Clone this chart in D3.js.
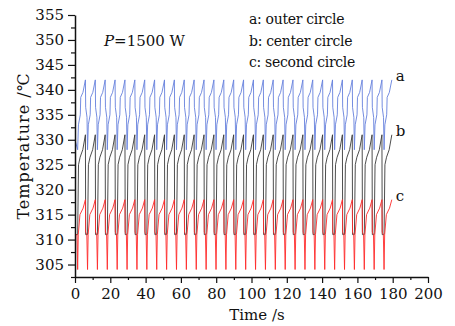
<!DOCTYPE html>
<html>
<head>
<meta charset="utf-8">
<script src="https://cdn.jsdelivr.net/npm/d3@7/dist/d3.min.js"></script>
<style>
  body { margin: 0; background: #fff; }
  svg { display: block; }
  text { font-family: "DejaVu Serif", serif; fill: #111; }
</style>
</head>
<body>
<div id="chart"></div>
<script>
// times (s) of each red minimum
const cycleStarts = [1.5, 7.1, 12.7, 18.3, 23.9, 29.5, 35.1, 40.7, 46.3, 51.9, 57.5, 63.1,
  68.7, 74.3, 79.9, 85.5, 91.1, 96.7, 102.3, 107.9, 113.5, 119.1, 124.7, 130.3,
  135.9, 141.5, 147.1, 152.7, 158.3, 163.9, 169.5, 175.1];
const lastTime = 179.5;

// one cycle of each curve: [offset from cycle start (s), temperature (°C)]
const profileA = [[0, 328], [0.45, 333], [1.5, 335], [1.75, 338.5], [3.0, 339.5], [4.4, 342], [4.55, 336.5], [5.3, 334.5]];
const profileB = [[0, 311], [0.5, 325], [1.4, 326.5], [2.9, 328], [4.4, 331], [4.55, 311], [5.3, 311]];
const profileC = [[0, 304], [0.35, 311], [1.3, 315], [3.1, 316.3], [4.4, 318], [4.55, 311.5], [5.2, 311]];

// values before the first cycle
const leadA = [[0, 330]];
const leadB = [[0, 311], [1.1, 311]];
const leadC = [[0, 311], [1.15, 311]];

const xTicks = [0, 20, 40, 60, 80, 100, 120, 140, 160, 180, 200];
const yTicks = [305, 310, 315, 320, 325, 330, 335, 340, 345, 350, 355];
const seriesNames = ["a", "b", "c"];
const legendLines = ["a: outer circle", "b: center circle", "c: second circle"];

function buildSeries(lead, profile) {
  const pts = lead.slice();
  cycleStarts.forEach(s => {
    profile.forEach(p => {
      const t = s + p[0];
      if (t <= lastTime + 1e-9) pts.push([t, p[1]]);
    });
  });
  return pts;
}

const width = 455, height = 326;
const margin = { top: 15, right: 27, bottom: 49, left: 75 };

const svg = d3.select('#chart').append('svg')
  .attr('width', width)
  .attr('height', height);

const x = d3.scaleLinear().domain([0, 200]).range([margin.left, width - margin.right]);
const y = d3.scaleLinear().domain([302.5, 355]).range([height - margin.bottom, margin.top]);

const series = [
  { name: seriesNames[0], color: '#6580dc', data: buildSeries(leadA, profileA) },
  { name: seriesNames[1], color: '#3a3a3a', data: buildSeries(leadB, profileB) },
  { name: seriesNames[2], color: '#ff2a2a', data: buildSeries(leadC, profileC) }
];

const line = d3.line().x(d => x(d[0])).y(d => y(d[1]));

svg.selectAll('.curve')
  .data(series)
  .enter()
  .append('path')
  .attr('class', 'curve')
  .attr('d', d => line(d.data))
  .attr('fill', 'none')
  .attr('stroke', d => d.color)
  .attr('stroke-width', 0.9);

// end labels
svg.selectAll('.end-label')
  .data(series)
  .enter()
  .append('text')
  .attr('class', 'end-label')
  .attr('x', d => x(d.data[d.data.length - 1][0]) + 4)
  .attr('y', d => y(d.data[d.data.length - 1][1]) + 1)
  .style('font-size', '15px')
  .text(d => d.name);

// axes
const xMinor = d3.range(0, 201, 10).filter(v => xTicks.indexOf(v) < 0);
const yMinor = d3.range(302.5, 356, 5);

svg.append('g')
  .attr('transform', `translate(0, ${y(302.5)})`)
  .call(d3.axisBottom(x).tickValues(xMinor).tickSize(3).tickFormat(''))
  .call(g => g.select('.domain').remove());

svg.append('g')
  .attr('transform', `translate(${margin.left}, 0)`)
  .call(d3.axisLeft(y).tickValues(yMinor).tickSize(4).tickFormat(''))
  .call(g => g.select('.domain').remove());

const xAxis = svg.append('g')
  .attr('transform', `translate(0, ${y(302.5)})`)
  .call(d3.axisBottom(x).tickValues(xTicks).tickSize(6).tickPadding(5).tickSizeOuter(0));

const yAxis = svg.append('g')
  .attr('transform', `translate(${margin.left}, 0)`)
  .call(d3.axisLeft(y).tickValues(yTicks).tickSize(7).tickPadding(4).tickSizeOuter(0));

svg.selectAll('.tick line').attr('stroke', '#111').attr('stroke-width', 1.2);
svg.selectAll('.domain').attr('stroke', '#111').attr('stroke-width', 1.5);
svg.selectAll('.tick text')
  .style('font-family', '"DejaVu Serif", serif')
  .style('font-size', '15px')
  .attr('fill', '#111');

// titles
svg.append('text')
  .attr('x', 257)
  .attr('y', 320)
  .attr('text-anchor', 'middle')
  .style('font-size', '15px')
  .text('Time /s');

svg.append('text')
  .attr('transform', 'rotate(-90)')
  .attr('x', -146)
  .attr('y', 29)
  .attr('text-anchor', 'middle')
  .style('font-size', '16px')
  .style('letter-spacing', '1px')
  .text('Temperature /℃');

const pText = svg.append('text')
  .attr('x', 104)
  .attr('y', 46)
  .style('font-size', '15px');
pText.append('tspan').style('font-style', 'italic').text('P');
pText.append('tspan').text('=1500 W');

svg.selectAll('.legend-line')
  .data(legendLines)
  .enter()
  .append('text')
  .attr('class', 'legend-line')
  .attr('x', 249)
  .attr('y', (d, i) => 24 + i * 21.5)
  .style('font-size', '14px')
  .style('letter-spacing', '-0.3px')
  .text(d => d);
</script>
</body>
</html>
